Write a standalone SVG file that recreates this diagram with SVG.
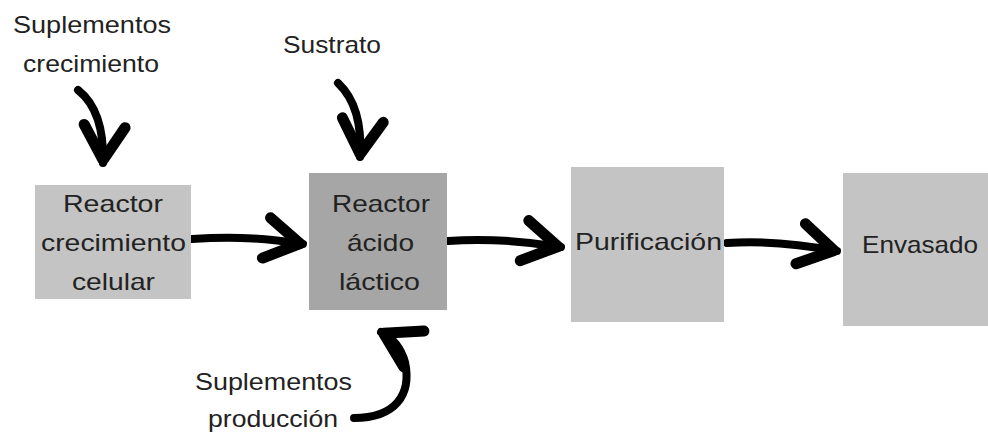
<svg xmlns="http://www.w3.org/2000/svg" width="988" height="433" viewBox="0 0 988 433">
<style>
text{font-family:"Liberation Sans",Arial,sans-serif;font-size:24px;fill:#222;}
.lt{fill:#c4c4c4;}
.dk{fill:#a6a6a6;}
.arr{fill:none;stroke:#000;stroke-width:8;stroke-linecap:round;marker-end:url(#head);}
</style>
<defs>
<marker id="head" markerUnits="userSpaceOnUse" viewBox="-45 -30 55 60" markerWidth="55" markerHeight="60" refX="3" refY="0" orient="auto" overflow="visible">
<path d="M -33 -21 L 0 0 L -35 20" fill="none" stroke="#000" stroke-width="11" stroke-linejoin="round" stroke-linecap="round"/>
</marker>
</defs>
<rect width="988" height="433" fill="#fff"/>
<g id="connectors">
<path class="arr" d="M 192 239 C 240 236, 270 239, 303 244"/>
<path class="arr" d="M 448 241 C 490 238, 530 242, 561 247"/>
<path class="arr" d="M 727 243 C 770 240, 810 246, 837 251"/>
<path class="arr" d="M 78 90 C 97 105, 104 130, 103 163"/>
<path class="arr" d="M 338 83 C 356 100, 362 125, 360 157"/>
<path class="arr" d="M 354 418 C 395 418, 412 395, 405 362 C 401 348, 393 338, 381 332"/>
</g>
<g id="reactor-crecimiento">
<rect class="lt" x="35" y="185" width="156" height="114"/>
<text x="63" y="212" textLength="100" lengthAdjust="spacingAndGlyphs">Reactor</text>
<text x="41" y="251" textLength="145" lengthAdjust="spacingAndGlyphs">crecimiento</text>
<text x="72" y="290" textLength="83" lengthAdjust="spacingAndGlyphs">celular</text>
</g>
<g id="reactor-acido">
<rect class="dk" x="309" y="173" width="138" height="137"/>
<text x="332" y="212" textLength="98" lengthAdjust="spacingAndGlyphs">Reactor</text>
<text x="347" y="251" textLength="67" lengthAdjust="spacingAndGlyphs">ácido</text>
<text x="339" y="290" textLength="81" lengthAdjust="spacingAndGlyphs">láctico</text>
</g>
<g id="purificacion">
<rect class="lt" x="571" y="167" width="153" height="155"/>
<text x="575" y="250" textLength="147" lengthAdjust="spacingAndGlyphs">Purificación</text>
</g>
<g id="envasado">
<rect class="lt" x="843" y="173" width="145" height="153"/>
<text x="862" y="253" textLength="116" lengthAdjust="spacingAndGlyphs">Envasado</text>
</g>
<g id="suplementos-crecimiento">
<text x="13" y="33" textLength="158" lengthAdjust="spacingAndGlyphs">Suplementos</text>
<text x="23" y="72" textLength="136" lengthAdjust="spacingAndGlyphs">crecimiento</text>
</g>
<g id="sustrato">
<text x="283" y="53" textLength="98" lengthAdjust="spacingAndGlyphs">Sustrato</text>
</g>
<g id="suplementos-produccion">
<text x="195" y="390" textLength="157" lengthAdjust="spacingAndGlyphs">Suplementos</text>
<text x="208" y="427" textLength="130" lengthAdjust="spacingAndGlyphs">producción</text>
</g>
</svg>
